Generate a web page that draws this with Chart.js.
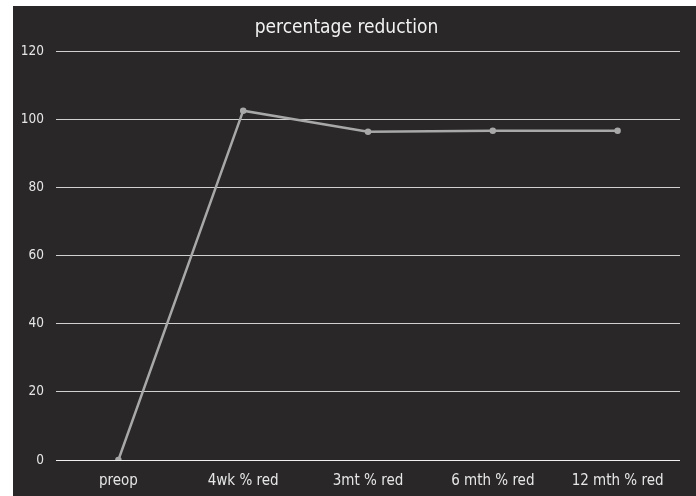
<!DOCTYPE html>
<html>
<head>
<meta charset="utf-8">
<script src="https://cdn.jsdelivr.net/npm/chart.js@4/dist/chart.umd.min.js"></script>
<style>
  html, body { margin: 0; padding: 0; background: #ffffff; }
  #wrap { position: absolute; left: 13px; top: 6px; width: 683px; height: 490px; background: #292728; }
</style>
</head>
<body>
<div id="wrap"><canvas id="chart"></canvas></div>
<script>
const categories = ['preop', '4wk % red', '3mt % red', '6 mth % red', '12 mth % red'];
const reduction = [0, 102.7, 96.5, 96.8, 96.8];
const yTicks = [0, 20, 40, 60, 80, 100, 120];

const fontFamily = "'DejaVu Sans Condensed', 'DejaVu Sans', sans-serif";

new Chart(document.getElementById('chart'), {
  type: 'line',
  data: {
    labels: categories,
    datasets: [
      {
        label: 'percentage reduction',
        data: reduction,
        borderColor: '#a8a8a8',
        backgroundColor: '#a8a8a8',
        borderWidth: 2.5,
        pointRadius: 2,
        pointHoverRadius: 2,
        tension: 0,
        fill: false,
      },
    ],
  },
  options: {
    responsive: true,
    maintainAspectRatio: false,
    animation: false,
    layout: { padding: { left: 0, right: 16, top: 11, bottom: 0 } },
    plugins: {
      legend: { display: false },
      tooltip: { enabled: false },
      title: {
        display: true,
        text: 'percentage reduction',
        color: '#f2f2f2',
        font: { family: fontFamily, size: 19, weight: 'normal' },
        padding: { top: 0, bottom: 12 },
      },
    },
    scales: {
      x: {
        offset: true,
        afterFit: (scale) => {
          scale.height = 36;
        },
        grid: { display: false, drawTicks: false },
        border: { display: false },
        ticks: {
          color: '#e6e6e6',
          font: { family: fontFamily, size: 15 },
          padding: 12,
          maxRotation: 0,
        },
      },
      y: {
        min: 0,
        max: 120,
        afterBuildTicks: (scale) => {
          scale.ticks = yTicks.map((v) => ({ value: v }));
        },
        afterFit: (scale) => {
          scale.width = 43;
        },
        grid: {
          color: (ctx) => (ctx.tick && ctx.tick.value === 0 ? '#f0f0f0' : '#d0d0d0'),
          lineWidth: 1,
          drawTicks: false,
        },
        border: { display: false },
        ticks: {
          color: '#e6e6e6',
          font: { family: fontFamily, size: 13.5 },
          padding: 12,
        },
      },
    },
  },
});
</script>
</body>
</html>
